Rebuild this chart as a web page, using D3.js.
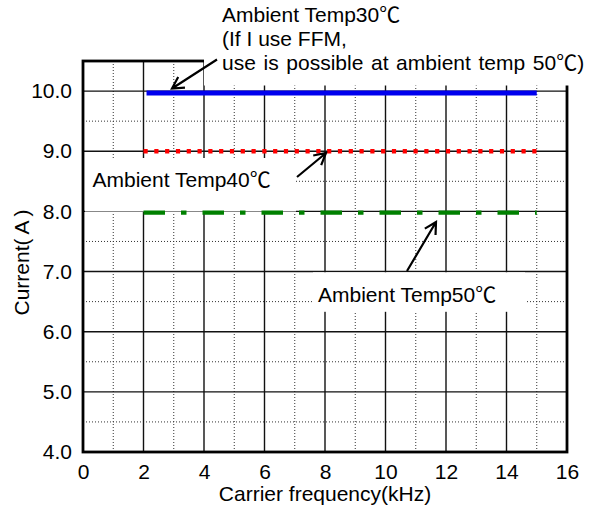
<!DOCTYPE html>
<html>
<head>
<meta charset="utf-8">
<script src="https://cdn.jsdelivr.net/npm/d3@7"></script>
<style>
  html, body { margin: 0; padding: 0; background: #fff; }
  svg { display: block; }
  text { font-family: "Liberation Sans", Arial, sans-serif; fill: #000; }
</style>
</head>
<body>
<svg id="chart" width="590" height="511"></svg>
<script>
// ---------- data ----------
const freqTicks = [0, 2, 4, 6, 8, 10, 12, 14, 16];
const freqMinor = [1, 3, 5, 7, 9, 11, 13, 15];
const currentTicks = [4, 5, 6, 7, 8, 9, 10];
const currentMinor = [4.5, 5.5, 6.5, 7.5, 8.5, 9.5];

const freq30 = [2.1, 15];
const current30 = [9.97, 9.97];
const freq40 = [2, 15];
const current40 = [9.0, 9.0];
const freq50 = [2, 15];
const current50 = [7.98, 7.98];

const xTitle = "Carrier frequency(kHz)";
const yTitle = ["Current", "(", "A", ")"];
const note30 = ["Ambient Temp30", "(If I use FFM,", "use is possible at ambient temp 50"];
const note40 = "Ambient Temp40";
const note50 = "Ambient Temp50";

// ---------- layout ----------
const svg = d3.select("#chart");
const x = d3.scaleLinear().domain([0, 16]).range([83, 567]);
const y = d3.scaleLinear().domain([4, 10.5]).range([452, 61]);
const FS = 21;

// minor grid
const g = svg.append("g");
g.selectAll(".vminor").data(freqMinor).join("line")
  .attr("x1", d => x(d)).attr("x2", d => x(d))
  .attr("y1", y(4)).attr("y2", y(10.5))
  .attr("stroke", "#333").attr("stroke-width", 1).attr("stroke-dasharray", "1,2");
g.selectAll(".hminor").data(currentMinor).join("line")
  .attr("x1", x(0)).attr("x2", x(16))
  .attr("y1", d => y(d)).attr("y2", d => y(d))
  .attr("stroke", "#333").attr("stroke-width", 1).attr("stroke-dasharray", "1,2");
// major grid
g.selectAll(".vmajor").data(freqTicks.slice(1, -1)).join("line")
  .attr("x1", d => x(d)).attr("x2", d => x(d))
  .attr("y1", y(4)).attr("y2", y(10.5))
  .attr("stroke", "#111").attr("stroke-width", 1.4);
g.selectAll(".hmajor").data(currentTicks.slice(1)).join("line")
  .attr("x1", x(0)).attr("x2", x(16))
  .attr("y1", d => y(d)).attr("y2", d => y(d))
  .attr("stroke", "#111").attr("stroke-width", 1.4);
// frame
g.append("rect")
  .attr("x", x(0)).attr("y", y(10.5))
  .attr("width", x(16) - x(0)).attr("height", y(4) - y(10.5))
  .attr("fill", "none").attr("stroke", "#000").attr("stroke-width", 2.8);

// axes (labels only)
const xAxis = svg.append("g").attr("transform", `translate(0,${y(4)})`)
  .call(d3.axisBottom(x).tickValues(freqTicks).tickSize(0).tickPadding(12).tickFormat(d3.format("d")));
xAxis.select(".domain").remove();
xAxis.selectAll("text").attr("font-size", FS).attr("font-family", "Liberation Sans, Arial, sans-serif").attr("fill", "#000");

const yAxis = svg.append("g").attr("transform", `translate(${x(0)},0)`)
  .call(d3.axisLeft(y).tickValues(currentTicks).tickSize(0).tickPadding(11).tickFormat(d3.format(".1f")));
yAxis.select(".domain").remove();
yAxis.selectAll("text").attr("font-size", FS).attr("font-family", "Liberation Sans, Arial, sans-serif").attr("fill", "#000");

// axis titles
svg.append("text").attr("x", (x(0) + x(16)) / 2).attr("y", 501)
  .attr("text-anchor", "middle").attr("font-size", FS).text(xTitle);
const yt = svg.append("text")
  .attr("transform", `translate(29,${(y(4) + y(10.5)) / 2 + 6}) rotate(-90)`)
  .attr("text-anchor", "middle").attr("font-size", FS);
yt.append("tspan").text(yTitle[0]);
yt.append("tspan").text(yTitle[1]);
yt.append("tspan").attr("dx", 4).text(yTitle[2]);
yt.append("tspan").attr("dx", 4).text(yTitle[3]);

// white label boxes
svg.append("rect").attr("x", 204).attr("y", 0).attr("width", 386).attr("height", 85.5).attr("fill", "#fff");
svg.append("rect").attr("x", 85).attr("y", 158).attr("width", 211).attr("height", 53.5).attr("fill", "#fff");
svg.append("rect").attr("x", 313).attr("y", 272.3).attr("width", 212).attr("height", 39.5).attr("fill", "#fff");

// series
const line = d3.line().x(d => x(d[0])).y(d => y(d[1]));
svg.append("path").datum(d3.zip(freq30, current30)).attr("d", line)
  .attr("fill", "none").attr("stroke", "#0000ee").attr("stroke-width", 5);
svg.append("path").datum(d3.zip(freq40, current40)).attr("d", line)
  .attr("fill", "none").attr("stroke", "#ff0000").attr("stroke-width", 4.4)
  .attr("stroke-dasharray", "4.2,6.6");
svg.append("path").datum(d3.zip(freq50, current50)).attr("d", line)
  .attr("fill", "none").attr("stroke", "#008000").attr("stroke-width", 4.3)
  .attr("stroke-dasharray", "21.5,16,5.5,16");

// annotation texts
function celsius(t, text) {
  t.append("tspan").text(text);
  t.append("tspan").attr("font-family", "Noto Sans CJK JP").attr("font-size", FS).text("℃");
}
const t1 = svg.append("text").attr("x", 222).attr("y", 21.5).attr("font-size", FS);
celsius(t1, note30[0]);
svg.append("text").attr("x", 222).attr("y", 45.5).attr("font-size", FS).text(note30[1]);
const t3 = svg.append("text").attr("x", 222).attr("y", 69.5).attr("font-size", FS)
  .attr("word-spacing", 1.8);
celsius(t3, note30[2]);
t3.append("tspan").text(")");

const t4 = svg.append("text").attr("x", 92.5).attr("y", 186.5).attr("font-size", FS);
celsius(t4, note40);
const t5 = svg.append("text").attr("x", 318).attr("y", 301.5).attr("font-size", FS);
celsius(t5, note50);

// arrows
function arrow(x1, y1, x2, y2) {
  const a = Math.atan2(y2 - y1, x2 - x1);
  const L = 13, w = 0.5;
  const p1 = [x2 - L * Math.cos(a - w), y2 - L * Math.sin(a - w)];
  const p2 = [x2 - L * Math.cos(a + w), y2 - L * Math.sin(a + w)];
  svg.append("path")
    .attr("d", `M${x1},${y1}L${x2},${y2}M${p1[0]},${p1[1]}L${x2},${y2}L${p2[0]},${p2[1]}`)
    .attr("fill", "none").attr("stroke", "#000").attr("stroke-width", 2.2);
}
arrow(217, 59.5, 172, 88.5);
arrow(297, 177, 326, 153);
arrow(407, 271, 436, 222);
</script>
</body>
</html>
